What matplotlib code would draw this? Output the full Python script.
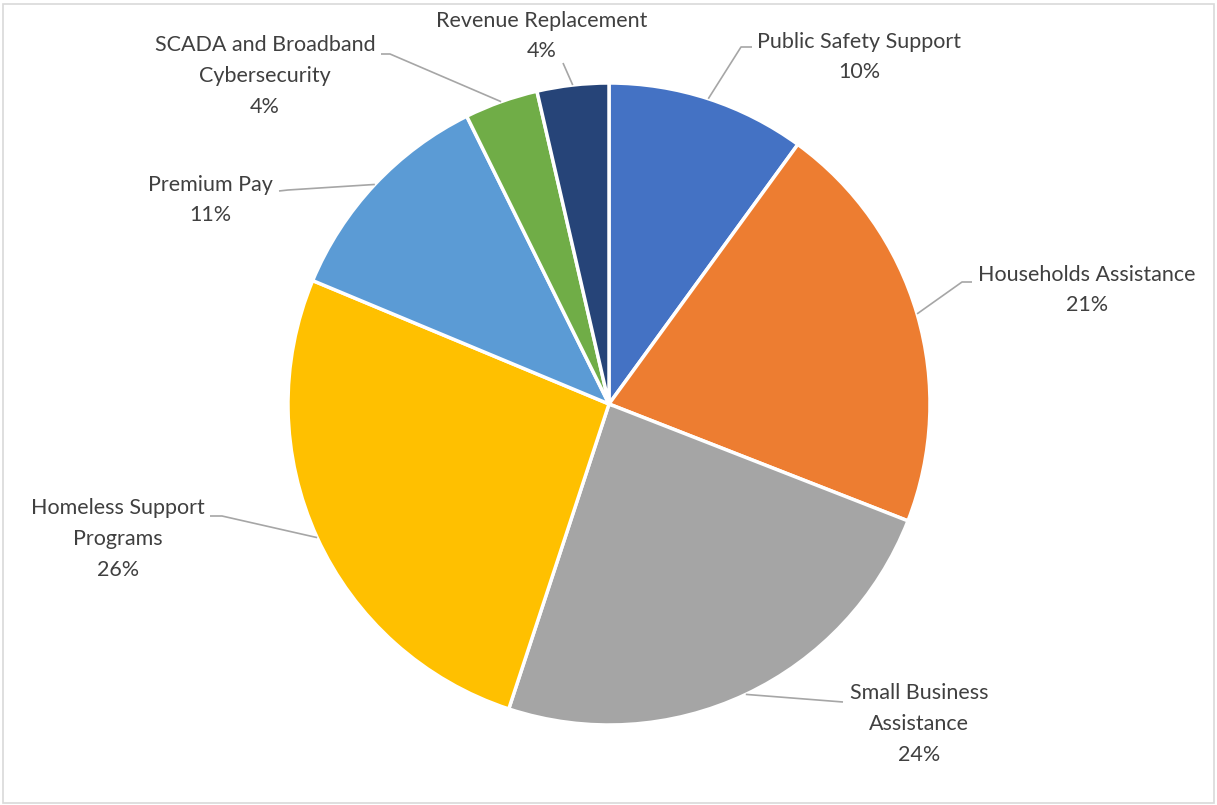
import numpy as np
from matplotlib import pyplot as plt
from matplotlib.patches import Rectangle

# spending categories, clockwise from 12 o'clock
categories = ["Public Safety Support", "Households Assistance", "Small Business\nAssistance",
              "Homeless Support\nPrograms", "Premium Pay", "SCADA and Broadband\nCybersecurity",
              "Revenue Replacement"]
shares = [10.0, 20.9, 24.1, 26.2, 11.4, 3.7, 3.6]
colors = ["#4472c4", "#ed7d31", "#a5a5a5", "#ffc000", "#5b9bd5", "#70ad47", "#264478"]

W, H = 1217, 805
cx, cy, R = 609, H - 404, 321

# label layout in pixels (y measured from the top): text centre, elbow, line end
text_xy = [(859, 57), (1087, 290), (919, 724), (118, 539), (210, 200), (265, 76), (542, 36)]
elbow_xy = [(741, 47), (962, 282), (843, 702), (222, 516), (288, 190), (390, 54), (563, 63)]
end_xy = [(752, 47), (972, 282), (843, 702), (210, 516), (279, 191), (381, 54), (563, 63)]

plt.rcParams['font.family'] = ['Lato', 'DejaVu Sans']

fig = plt.figure(figsize=(W / 100, H / 100), dpi=100)
ax = fig.add_axes([0, 0, 1, 1])

wedges, _ = ax.pie(shares, colors=colors, startangle=90, counterclock=False,
                   center=(cx, cy), radius=R,
                   wedgeprops=dict(edgecolor="white", linewidth=2.5))
ax.set_xlim(0, W)
ax.set_ylim(0, H)
ax.set_aspect("equal")
ax.axis("off")

total = sum(shares)
for w, name, val, txy, exy, lxy in zip(wedges, categories, shares, text_xy, elbow_xy, end_xy):
    mid = np.deg2rad((w.theta1 + w.theta2) / 2)
    px, py = cx + R * np.cos(mid), cy + R * np.sin(mid)
    ax.plot([px, exy[0], lxy[0]], [py, H - exy[1], H - lxy[1]],
            color="#a6a6a6", lw=1.2, solid_capstyle="butt")
    ax.text(txy[0], H - txy[1], f"{name}\n{val / total * 100:.0f}%",
            ha="center", va="center", fontsize=15.5, color="#404040", linespacing=1.68)

# thin chart-area border
fig.patches.append(Rectangle((3 / W, 2 / H), 1 - 6 / W, 1 - 6 / H, transform=fig.transFigure,
                             fill=False, edgecolor="#d9d9d9", lw=1.2))

fig.savefig("out.png", dpi=100)
